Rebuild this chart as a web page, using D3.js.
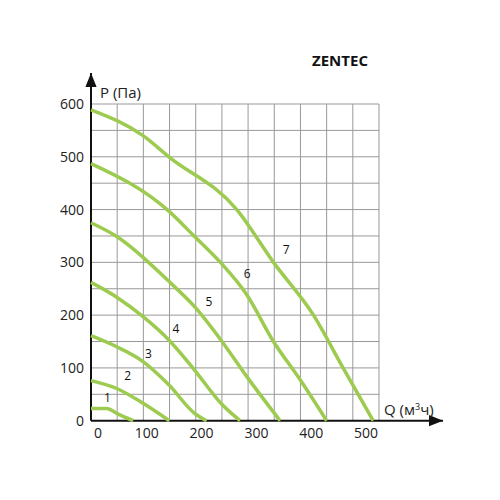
<!DOCTYPE html>
<html><head><meta charset="utf-8">
<script src="https://cdn.jsdelivr.net/npm/d3@7"></script>
<style>body{margin:0;background:#fff}text{font-family:"Open Sans",sans-serif}</style>
</head><body><svg id="chart" width="500" height="500"></svg>
<script>
// fan curves, Q (m3/h) vs P (Pa)
var curve1 = [[0,23],[29,23],[47,14],[77,0]];
var curve2 = [[0,76],[47,61],[95,33],[143,0]];
var curve3 = [[0,161],[47,140],[95,112],[142,68],[189,14],[211,0]];
var curve4 = [[0,262],[47,234],[95,197],[142,153],[189,96],[237,33],[272,0]];
var curve5 = [[0,375],[47,349],[142,264],[189,216],[237,153],[284,84],[345,0]];
var curve6 = [[0,487],[142,397],[189,349],[237,299],[284,239],[333,150],[382,77],[430,0]];
var curve7 = [[0,589],[95,540],[142,500],[266,400],[333,300],[406,200],[460,100],[515,0]];
var curves = [curve1, curve2, curve3, curve4, curve5, curve6, curve7];
var curveNames = ["1","2","3","4","5","6","7"];
var labelPos = [[30,36],[67,78],[105,118],[155,166],[215,217],[285,270],[356,315]];
var xTicks = [0,100,200,300,400,500];
var yTicks = [0,100,200,300,400,500,600];

var svg = d3.select("#chart");
var x = d3.scaleLinear().domain([0,500]).range([91,365]);
var y = d3.scaleLinear().domain([0,600]).range([420.7,104]);
var gx = d3.scaleLinear().domain([0,11]).range([91,379]);

// grid
svg.append("g").selectAll("line").data(d3.range(1,12)).enter().append("line")
    .attr("x1", d => gx(d)).attr("x2", d => gx(d))
    .attr("y1", y(600)).attr("y2", y(0))
    .attr("stroke","#999").attr("stroke-width",1);
svg.append("g").selectAll("line").data(d3.range(1,13)).enter().append("line")
    .attr("x1", gx(0)).attr("x2", gx(11))
    .attr("y1", d => y(d*50)).attr("y2", d => y(d*50))
    .attr("stroke","#999").attr("stroke-width",1);

// axes with arrows
svg.append("defs").append("marker").attr("id","arr")
    .attr("viewBox","0 0 10 10").attr("refX",10).attr("refY",5)
    .attr("markerWidth",7).attr("markerHeight",7).attr("orient","auto")
    .append("path").attr("d","M0,1L10,5L0,9Z").attr("fill","#111");
svg.append("line").attr("x1",91).attr("x2",91).attr("y1",y(0)).attr("y2",73)
    .attr("stroke","#111").attr("stroke-width",2).attr("marker-end","url(#arr)");
svg.append("line").attr("x1",91).attr("x2",443).attr("y1",y(0)).attr("y2",y(0))
    .attr("stroke","#111").attr("stroke-width",2).attr("marker-end","url(#arr)");

svg.append("g").selectAll("text").data(yTicks).enter().append("text")
    .attr("x",84).attr("y", d => y(d)+5).attr("text-anchor","end")
    .attr("font-size",14).attr("fill","#222").text(d => d);
svg.append("g").selectAll("text").data(xTicks).enter().append("text")
    .attr("x", d => d === 0 ? 94 : x(d)+1).attr("y",438)
    .attr("text-anchor", d => d === 0 ? "start" : "middle")
    .attr("font-size",14).attr("fill","#222").text(d => d);

svg.append("text").attr("x",100).attr("y",98).attr("font-size",15).attr("fill","#222").text("P (Па)");
svg.append("text").attr("x",384).attr("y",415).attr("font-size",15).attr("fill","#222")
    .html('Q (м<tspan dy="-5" font-size="9">3</tspan><tspan dy="5">ч)</tspan>');
svg.append("text").attr("x",340).attr("y",66).attr("text-anchor","middle")
    .attr("font-size",15).attr("font-weight","bold").attr("font-family","Liberation Sans, Arial")
    .attr("fill","#111").text("ZENTEC");

// curves
var line = d3.line().x(d => x(d[0])).y(d => y(d[1])).curve(d3.curveMonotoneX);
svg.append("g").selectAll("path").data(curves).enter().append("path")
    .attr("d", line).attr("fill","none").attr("stroke","#9dcb50").attr("stroke-width",3.5);

svg.append("g").selectAll("text").data(curveNames).enter().append("text")
    .attr("x",(d,i) => x(labelPos[i][0])).attr("y",(d,i) => y(labelPos[i][1]))
    .attr("text-anchor","middle").attr("font-size",12).attr("fill","#111").text(d => d);
</script></body></html>
